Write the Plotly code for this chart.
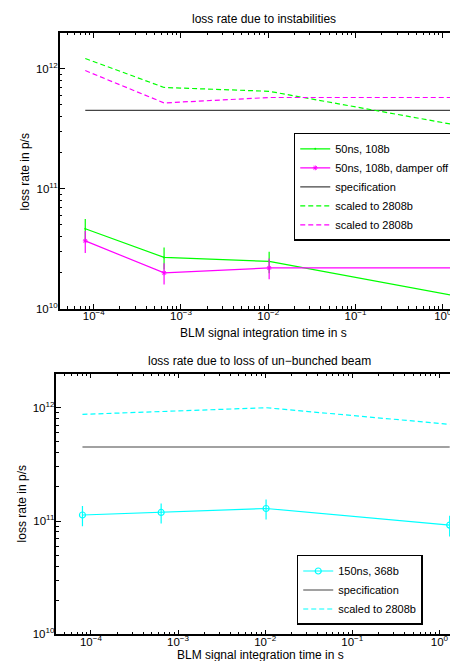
import plotly.graph_objects as go

# ---------------- data ----------------
t_int = [8e-5, 6.4e-4, 1.024e-2, 1.31072]          # BLM integration times (s)

# top panel: instabilities
g50 = [4.64e10, 2.68e10, 2.48e10, 1.29e10]          # 50ns, 108b
g50_err = [0.95e10, 0.56e10, 0.5e10, 0.27e10]
m50 = [3.68e10, 1.99e10, 2.19e10, 2.19e10]          # 50ns, 108b, damper off
m50_err = [0.76e10, 0.40e10, 0.43e10, 0.43e10]
g50_scaled = [1.22e12, 7.0e11, 6.5e11, 3.44e11]     # scaled to 2808b
m50_scaled = [9.68e11, 5.2e11, 5.77e11, 5.77e11]    # scaled to 2808b

# bottom panel: un-bunched beam
c150 = [1.13e11, 1.19e11, 1.29e11, 9.2e10]          # 150ns, 368b
c150_err = [0.23e11, 0.24e11, 0.26e11, 0.19e11]
c150_scaled = [8.74e11, 9.2e11, 1.0e12, 7.14e11]    # scaled to 2808b

spec = [4.5e11, 4.5e11, 4.5e11, 4.5e11]             # specification

x_tickvals = [1e-4, 1e-3, 1e-2, 1e-1, 1]
x_ticktext = ["10<sup>\u22124</sup>", "10<sup>\u22123</sup>", "10<sup>\u22122</sup>",
              "10<sup>\u22121</sup>", "10<sup>0</sup>"]
y_tickvals = [1e10, 1e11, 1e12]
y_ticktext = ["10<sup>10</sup>", "10<sup>11</sup>", "10<sup>12</sup>"]

titles = ["loss rate due to instabilities", "loss rate due to loss of un\u2212bunched beam"]
xlabel = "BLM signal integration time in s"
ylabel = "loss rate in p/s"

GREEN = "#00ff00"
MAG = "#ff00ff"
CYAN = "#00ffff"
SPEC = "#444444"
FONT = "Liberation Sans, Arial, sans-serif"
W, H = 458, 661

fig = go.Figure()

def err(arr, col):
    return dict(type="data", array=arr, width=0, thickness=1.2, color=col, visible=True)

# top traces
fig.add_trace(go.Scatter(x=t_int, y=g50, mode="lines+markers", name="50ns, 108b",
                         line=dict(color=GREEN, width=1.2), marker=dict(size=2, color=GREEN),
                         error_y=err(g50_err, GREEN), xaxis="x", yaxis="y", legend="legend"))
fig.add_trace(go.Scatter(x=t_int, y=m50, mode="lines+markers", name="50ns, 108b, damper off",
                         line=dict(color=MAG, width=1.2),
                         marker=dict(symbol="asterisk-open", size=4, color=MAG, line=dict(color=MAG, width=1)),
                         error_y=err(m50_err, MAG), xaxis="x", yaxis="y", legend="legend"))
fig.add_trace(go.Scatter(x=t_int, y=spec, mode="lines", name="specification",
                         line=dict(color=SPEC, width=1.2), xaxis="x", yaxis="y", legend="legend"))
fig.add_trace(go.Scatter(x=t_int, y=g50_scaled, mode="lines", name="scaled to 2808b",
                         line=dict(color=GREEN, width=1.2, dash="5px,3px"), xaxis="x", yaxis="y", legend="legend"))
fig.add_trace(go.Scatter(x=t_int, y=m50_scaled, mode="lines", name="scaled to 2808b",
                         line=dict(color=MAG, width=1.2, dash="5px,3px"), xaxis="x", yaxis="y", legend="legend"))

# bottom traces
fig.add_trace(go.Scatter(x=t_int, y=c150, mode="lines+markers", name="150ns, 368b",
                         line=dict(color=CYAN, width=1.2),
                         marker=dict(symbol="circle-open", size=6, color=CYAN, line=dict(color=CYAN, width=1.2)),
                         error_y=err(c150_err, CYAN), xaxis="x2", yaxis="y2", legend="legend2"))
fig.add_trace(go.Scatter(x=t_int, y=spec, mode="lines", name="specification",
                         line=dict(color=SPEC, width=1.2), xaxis="x2", yaxis="y2", legend="legend2"))
fig.add_trace(go.Scatter(x=t_int, y=c150_scaled, mode="lines", name="scaled to 2808b",
                         line=dict(color=CYAN, width=1.2, dash="5px,3px"), xaxis="x2", yaxis="y2", legend="legend2"))

def px_x(p):
    return p / W

def px_y(p):
    return 1 - p / H

common_axis = dict(type="log", showline=True, linecolor="black", linewidth=1.5, mirror="allticks",
                   ticks="inside", ticklen=5, tickwidth=1, tickcolor="black",
                   tickmode="array", showgrid=False, zeroline=False,
                   minor=dict(ticks="inside", ticklen=2.5, tickwidth=1, tickcolor="black",
                              dtick="D1", showgrid=False),
                   tickfont=dict(size=11.5, color="black", family=FONT))

def xaxis(dom, rng, anchor):
    return dict(domain=dom, range=rng, anchor=anchor, tickvals=x_tickvals, ticktext=x_ticktext,
                ticklabelstandoff=-4, **common_axis)

def yaxis(dom, anchor):
    return dict(domain=dom, range=[10, 12.301], anchor=anchor, tickvals=y_tickvals, ticktext=y_ticktext,
                ticklabelstandoff=-2, **common_axis)

legend_common = dict(bgcolor="white", bordercolor="black", borderwidth=1.5,
                     font=dict(size=11, color="black", family=FONT),
                     xanchor="left", yanchor="top", tracegroupgap=0, itemwidth=30)

fig.update_layout(
    width=W, height=H, margin=dict(l=0, r=0, t=0, b=0),
    paper_bgcolor="white", plot_bgcolor="white",
    font=dict(family=FONT, color="black"),
    xaxis=xaxis([px_x(52), 1.0], [-4.389, 0.243], "y"),
    yaxis=yaxis([px_y(303.5), px_y(25)], "x"),
    xaxis2=xaxis([px_x(48.7), 1.0], [-4.395, 0.282], "y2"),
    yaxis2=yaxis([px_y(632), px_y(369)], "x2"),
    legend=dict(x=px_x(287), y=px_y(126), **legend_common),
    legend2=dict(x=px_x(290), y=px_y(552), **legend_common),
    showlegend=True,
)

ann = [
    (titles[0], 257, 11, 0),
    (titles[1], 253, 356, 0),
    (xlabel, 257, 328, 0),
    (xlabel, 254, 653, 0),
    (ylabel, 17, 165, -90),
    (ylabel, 15, 500, -90),
]
for text, x, y, ang in ann:
    fig.add_annotation(text=text, x=px_x(x), y=px_y(y), xref="paper", yref="paper",
                       showarrow=False, textangle=ang, xanchor="center", yanchor="middle",
                       font=dict(size=12, color="black", family=FONT))

fig.write_html("out.html")
